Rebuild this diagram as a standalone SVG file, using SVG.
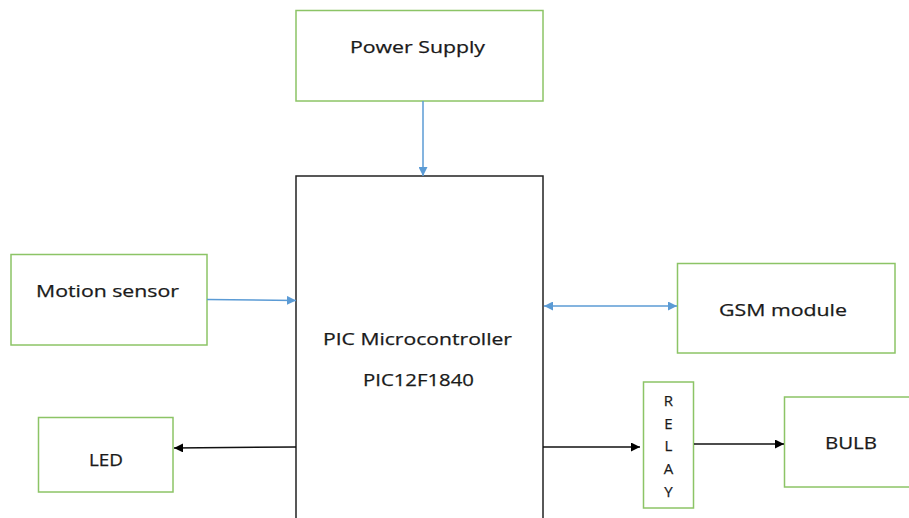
<svg xmlns="http://www.w3.org/2000/svg" width="909" height="518" viewBox="0 0 909 518">
<style>
.g{fill:#fff;stroke:#8cc466;stroke-width:1.5}
.k{fill:#fff;stroke:#222;stroke-width:1.5}
text{font-family:"Open Sans","Liberation Sans",sans-serif;font-size:17px;fill:#1a1a1a;text-anchor:middle;stroke:#1a1a1a;stroke-width:0.25}
.r{font-size:15px;stroke-width:0.25}
.b{stroke:#5b9bd5;stroke-width:1.5;fill:none}
.d{stroke:#111;stroke-width:1.5;fill:none}
</style>
<defs>
<marker id="ab" viewBox="0 0 10 10" refX="10" refY="5" markerWidth="9" markerHeight="9" orient="auto-start-reverse" markerUnits="userSpaceOnUse"><path d="M0,0L10,5L0,10z" fill="#5b9bd5"/></marker>
<marker id="ak" viewBox="0 0 10 10" refX="10" refY="5" markerWidth="9" markerHeight="9" orient="auto-start-reverse" markerUnits="userSpaceOnUse"><path d="M0,0L10,5L0,10z" fill="#000"/></marker>
</defs>
<rect width="909" height="518" fill="#fff"/>
<g id="power"><rect class="g" x="296" y="10.5" width="247" height="90.5"/><text x="417.5" y="53" textLength="135" lengthAdjust="spacingAndGlyphs">Power Supply</text></g>
<g id="pic"><rect class="k" x="296" y="176" width="247" height="350"/><text x="417.5" y="345" textLength="189" lengthAdjust="spacingAndGlyphs">PIC Microcontroller</text><text x="418.5" y="386" textLength="111" lengthAdjust="spacingAndGlyphs">PIC12F1840</text></g>
<g id="motion"><rect class="g" x="11" y="254.5" width="196" height="90.5"/><text x="107.5" y="297" textLength="143" lengthAdjust="spacingAndGlyphs">Motion sensor</text></g>
<g id="led"><rect class="g" x="38.5" y="417.5" width="134.5" height="74.5"/><text x="106" y="466" textLength="34" lengthAdjust="spacingAndGlyphs">LED</text></g>
<g id="gsm"><rect class="g" x="677.5" y="263.5" width="217.5" height="89.5"/><text x="783" y="316" textLength="128" lengthAdjust="spacingAndGlyphs">GSM module</text></g>
<g id="relay"><rect class="g" x="643.5" y="382" width="50" height="126"/>
<text class="r" x="668.5" y="405.5">R</text><text class="r" x="668.5" y="428.5">E</text><text class="r" x="668.5" y="451">L</text><text class="r" x="668.5" y="473.5">A</text><text class="r" x="668.5" y="496.5">Y</text></g>
<g id="bulb"><rect class="g" x="784.5" y="397" width="140" height="90"/><text x="851" y="449" textLength="52" lengthAdjust="spacingAndGlyphs">BULB</text></g>
<g id="connectors">
<path class="b" d="M423,101V176" marker-end="url(#ab)"/>
<path class="b" d="M207,299.5L296,300.5" marker-end="url(#ab)"/>
<path class="b" d="M544,306H677" marker-start="url(#ab)" marker-end="url(#ab)"/>
<path class="d" d="M296,447L174,448" marker-end="url(#ak)"/>
<path class="d" d="M543,447H640" marker-end="url(#ak)"/>
<path class="d" d="M694,444H784" marker-end="url(#ak)"/>
</g>
</svg>
